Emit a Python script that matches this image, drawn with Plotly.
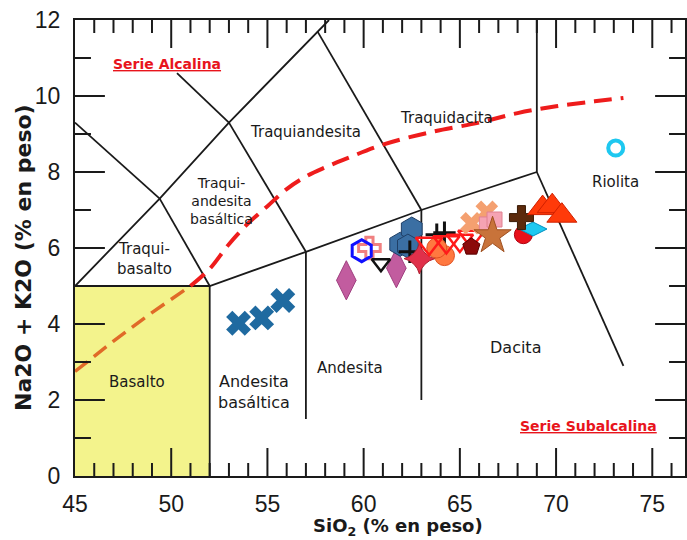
import plotly.graph_objects as go

# ---- TAS field boundaries (SiO2, Na2O+K2O) ----
boundary_segments = [
    [(45, 5.0), (52, 5.0), (57, 5.9), (63, 7.0), (69, 8.0)],
    [(52, 0.0), (52, 5.0)],
    [(57, 1.5), (57, 5.9)],
    [(63, 2.0), (63, 7.0)],
    [(69, 8.0), (73.5, 2.9)],
    [(69, 8.0), (69, 12.0)],
    [(45, 5.0), (49.4, 7.3), (53, 9.3), (57.6, 11.7), (58.2, 12.0)],
    [(49.4, 7.3), (52, 5.0)],
    [(53, 9.3), (57, 5.9)],
    [(57.6, 11.7), (63, 7.0)],
    [(45, 9.3), (49.4, 7.3)],
    [(50.3, 10.6), (53, 9.3)],
]

# Alkaline / subalkaline divide
divide_sio2 = [45, 47, 49, 51, 52, 53, 54, 55, 56, 57, 58, 59, 61, 63.5, 66, 68, 70, 72, 73.5]
divide_alk = [2.75, 3.55, 4.3, 5.0, 5.45, 6.1, 6.65, 7.1, 7.55, 7.88, 8.12, 8.33, 8.72, 9.05, 9.3, 9.55, 9.73, 9.86, 9.95]

# ---- Samples ----
samples = [
    # name, sio2, alk, symbol, color, size, line color, line width
    ("andesita basáltica", [53.5, 54.7, 55.8], [4.02, 4.16, 4.62], "x", "#1f6aa0", 22, "#1f6aa0", 0),
    ("diamantes", [59.1, 61.7], [5.15, 5.47], "diamond-tall", "#c25c9f", 28, "#a04080", 1),
    ("cruz salmón", [60.3], [6.0], "cross-open", "#f08080", 18, None, 3),
    ("hexágono azul", [59.9], [5.93], "hexagon-open", "#1010ff", 22, None, 3),
    ("v negra", [60.9], [5.6], "triangle-down-open", "#111111", 16, None, 2.5),
    ("hexágonos", [61.9, 62.5, 62.3], [6.1, 6.5, 6.05], "hexagon", "#3b6fa3", 24, "#1f3f66", 1),
    ("cruces negras", [62.4, 63.8, 64.2], [5.9, 6.35, 6.4], "cross-thin", "#111111", 16, None, 3),
    ("estrella carmín", [62.9], [5.72], "star-diamond", "#e0304a", 22, "#b02030", 1),
    ("círculos naranja", [64.2, 63.8], [5.8, 6.0], "circle", "#ff7840", 20, "#e05020", 1),
    ("triángulos rojos", [63.4, 64.3, 65.0, 65.6], [6.12, 6.16, 6.2, 6.3], "triangle-down-open", "#ff1a1a", 23, None, 2.5),
    ("pentágono", [65.6], [6.03], "pentagon", "#8b0a0a", 18, "#5a0000", 1),
    ("aspas naranja", [65.6, 66.4], [6.65, 6.95], "x", "#f4a070", 20, "#e08050", 0),
    ("cuadrados rosa", [66.4, 66.8], [6.62, 6.75], "square", "#f5a3b3", 15, "#e08090", 1),
    ("estrella marrón", [66.7], [6.32], "star", "#c8733a", 28, "#a05020", 1),
    ("círculo rojo", [68.3], [6.35], "circle", "#e8101a", 18, "#b00010", 1),
    ("rombo cian", [68.8], [6.5], "diamond-wide", "#1ec8f0", 20, "#0090c0", 1),
    ("cruz marrón", [68.2], [6.8], "cross", "#5c2a0c", 20, "#3a1a05", 1),
    ("triángulos rojo-naranja", [69.3, 69.8, 70.3], [7.05, 7.1, 6.85], "triangle-up", "#ff3a0a", 26, "#d02000", 1),
    ("riolita", [73.1], [8.63], "circle-open", "#1ec8f0", 15, None, 4),
]

# ---- Field labels ----
field_labels = [
    ("Traquiandesita", 57.0, 9.05, 15),
    ("Traquidacita", 64.3, 9.42, 15),
    ("Traqui-<br>andesita<br>basáltica", 52.6, 7.25, 14),
    ("Traqui-<br>basalto", 48.6, 5.7, 15),
    ("Riolita", 73.1, 7.75, 15),
    ("Basalto", 48.2, 2.47, 15),
    ("Andesita<br>basáltica", 54.3, 2.2, 16),
    ("Andesita", 59.3, 2.84, 15),
    ("Dacita", 67.9, 3.37, 16),
]

X_RANGE = [45, 76.7]
Y_RANGE = [0, 12]
LABEL_FONT = "DejaVu Sans"
TICK_FONT = "Liberation Sans"
INK = "#1a1a1a"

# plot area size in px, used to express tick lengths in data units
PLOT_W = 687 - 75
PLOT_H = 540 - 20 - 64
X_PER_PX = (X_RANGE[1] - X_RANGE[0]) / PLOT_W
Y_PER_PX = (Y_RANGE[1] - Y_RANGE[0]) / PLOT_H

fig = go.Figure()

# basalt field fill
fig.add_shape(type="rect", x0=45, x1=52, y0=0, y1=5, xref="x", yref="y",
              fillcolor="rgb(243,243,140)", line=dict(width=0), layer="below")

for seg in boundary_segments:
    xs = [p[0] for p in seg]
    ys = [p[1] for p in seg]
    fig.add_trace(go.Scatter(x=xs, y=ys, mode="lines", line=dict(color=INK, width=1.8),
                             hoverinfo="skip", showlegend=False))

# dashed divide: orange inside the basalt field, red outside
split = 3
fig.add_trace(go.Scatter(x=divide_sio2[:split + 1], y=divide_alk[:split + 1], mode="lines",
                         line=dict(color="#e06a28", width=3.5, dash="16px,8px"),
                         showlegend=False, hoverinfo="skip"))
fig.add_trace(go.Scatter(x=divide_sio2[split:], y=divide_alk[split:], mode="lines",
                         line=dict(color="#ee1c1c", width=4, dash="18px,9px", shape="spline"),
                         showlegend=False, hoverinfo="skip"))

# inward tick marks on all four sides (major every 5 / 2, minor every 1);
# one short trace per tick
def tick(xs, ys):
    fig.add_trace(go.Scatter(x=xs, y=ys, mode="lines", line=dict(color=INK, width=2),
                             hoverinfo="skip", showlegend=False, cliponaxis=False))


for v in range(X_RANGE[0] + 1, int(X_RANGE[1]) + 1):
    ln = (28 if v % 5 == 0 else 13) * Y_PER_PX
    tick([v, v], [Y_RANGE[0], Y_RANGE[0] + ln])
    tick([v, v], [Y_RANGE[1], Y_RANGE[1] - ln])
for v in range(Y_RANGE[0] + 1, Y_RANGE[1]):
    ln = (30 if v % 2 == 0 else 16) * X_PER_PX
    tick([X_RANGE[0], X_RANGE[0] + ln], [v, v])
    tick([X_RANGE[1], X_RANGE[1] - ln], [v, v])

for name, xs, ys, sym, col, size, lcol, lw in samples:
    if sym.endswith("-open") or sym in ("cross-thin",):
        marker = dict(symbol=sym, size=size, color=col, line=dict(color=col, width=lw))
    else:
        marker = dict(symbol=sym, size=size, color=col, line=dict(color=lcol, width=lw))
    fig.add_trace(go.Scatter(x=xs, y=ys, mode="markers", name=name, marker=marker,
                             showlegend=False))

for text, x, y, size in field_labels:
    fig.add_annotation(x=x, y=y, text=text, showarrow=False,
                       font=dict(family=LABEL_FONT, size=size, color=INK))

# series labels
fig.add_annotation(x=49.8, y=10.84, text="<u><b>Serie Alcalina</b></u>", showarrow=False,
                   font=dict(family=LABEL_FONT, size=14, color="#e8141c"))
fig.add_annotation(x=71.7, y=1.32, text="<u><b>Serie Subalcalina</b></u>", showarrow=False,
                   font=dict(family=LABEL_FONT, size=14, color="#e8141c"))

# axis titles
fig.add_annotation(x=61.8, y=0, yref="paper", yanchor="top", yshift=-37,
                   text="<b>SiO<sub>2</sub> (% en peso)</b>", showarrow=False,
                   font=dict(family=LABEL_FONT, size=18, color=INK))
fig.add_annotation(x=0, xref="paper", xshift=-66, y=5.75, textangle=-90,
                   text="<b>Na2O + K2O (% en peso)</b>", showarrow=False,
                   font=dict(family=LABEL_FONT, size=22, color=INK))

tick_font = dict(family=TICK_FONT, size=23, color=INK)

fig.update_xaxes(range=X_RANGE, tickmode="linear", tick0=45, dtick=5,
                 showgrid=False, zeroline=False, showline=True, linecolor=INK,
                 linewidth=2, mirror=True, ticks="", tickfont=tick_font,
                 ticklabelstandoff=6)
fig.update_yaxes(range=Y_RANGE, tickmode="linear", tick0=0, dtick=2,
                 showgrid=False, zeroline=False, showline=True, linecolor=INK,
                 linewidth=2, mirror=True, ticks="", tickfont=tick_font,
                 ticklabelstandoff=8)

fig.update_layout(width=687, height=540, margin=dict(l=75, r=0, t=20, b=64),
                  plot_bgcolor="white", paper_bgcolor="white")

fig.write_html("out.html")
